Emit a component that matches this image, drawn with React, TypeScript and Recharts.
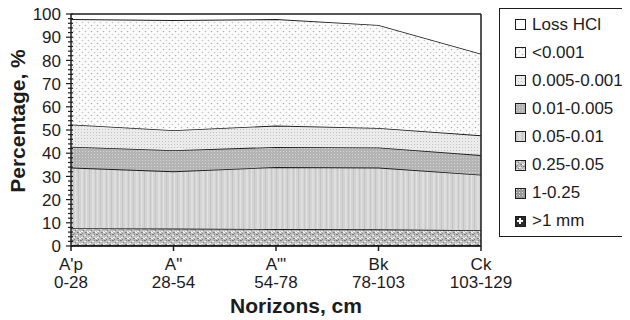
import React from 'react';
import { AreaChart, Area, XAxis, YAxis, ReferenceLine } from 'recharts';

const horizons = ["A'p", 'A"', 'A"\'', 'Bk', 'Ck'];
const depths = ['0-28', '28-54', '54-78', '78-103', '103-129'];

const gt1mm = [0.1, 0.1, 0.1, 0.1, 0.1];
const f1_025 = [0.3, 0.3, 0.3, 0.3, 0.3];
const f025_005 = [7.3, 7.1, 6.9, 6.8, 6.4];
const f005_001 = [26.1, 24.7, 26.7, 26.6, 23.9];
const f001_0005 = [9.0, 9.1, 8.7, 8.7, 8.5];
const f0005_0001 = [9.6, 8.6, 9.2, 8.4, 8.5];
const lt0001 = [45.4, 47.5, 45.9, 44.4, 35.2];
const lossHCl = [2.2, 2.6, 2.2, 4.7, 17.1];

const yTicks = [0, 2, 4, 6, 8, 10, 12, 14, 16, 18, 20, 22, 24, 26, 28, 30, 32, 34, 36, 38, 40, 42, 44, 46, 48, 50, 52, 54, 56, 58, 60, 62, 64, 66, 68, 70, 72, 74, 76, 78, 80, 82, 84, 86, 88, 90, 92, 94, 96, 98, 100];
const yLabels = [0, 10, 20, 30, 40, 50, 60, 70, 80, 90, 100];

// bottom-first stacking order
const series = [
  { key: 'gt1', name: '>1 mm', values: gt1mm, pat: 'patGt1' },
  { key: 'f1', name: '1-0.25', values: f1_025, pat: 'pat1' },
  { key: 'f025', name: '0.25-0.05', values: f025_005, pat: 'pat025' },
  { key: 'f005', name: '0.05-0.01', values: f005_001, pat: 'pat005' },
  { key: 'f001', name: '0.01-0.005', values: f001_0005, pat: 'pat001' },
  { key: 'f0005', name: '0.005-0.001', values: f0005_0001, pat: 'pat0005' },
  { key: 'lt', name: '<0.001', values: lt0001, pat: 'patFine' },
  { key: 'loss', name: 'Loss HCl', values: lossHCl, pat: 'patLoss' },
];

const data = horizons.map((h, i) => {
  const row: Record<string, any> = { h, depth: depths[i] };
  series.forEach((s) => { row[s.key] = s.values[i]; });
  return row;
});

const FONT = '"Liberation Sans", Arial, Helvetica, sans-serif';
const INK = '#1c1c1c';

const XTick = (props: any) => {
  const { x, y, payload } = props;
  const idx = horizons.indexOf(payload.value);
  return (
    <g>
      <line x1={x} y1={y} x2={x} y2={y + 5} stroke={INK} strokeWidth={1.5} />
      <text x={x} y={y + 24} textAnchor="middle" fontSize={17} fontFamily={FONT} fill={INK}>{payload.value}</text>
      <text x={x} y={y + 42} textAnchor="middle" fontSize={17} fontFamily={FONT} fill={INK}>{depths[idx]}</text>
    </g>
  );
};

const YTick = (props: any) => {
  const { x, y, payload } = props;
  const major = yLabels.includes(payload.value);
  return (
    <g>
      <line x1={x - (major ? 5 : 3)} y1={y} x2={x + 2} y2={y} stroke={INK} strokeWidth={1.2} />
      {major && (
        <text x={x - 10} y={y} dy="0.36em" textAnchor="end" fontSize={17} fontFamily={FONT} fill={INK}>{payload.value}</text>
      )}
    </g>
  );
};

const Patterns = () => (
  <svg width={0} height={0} style={{ position: 'absolute' }}>
    <defs>
      <pattern id="patLoss" patternUnits="userSpaceOnUse" width={4} height={4}>
        <rect width={4} height={4} fill="#ffffff" />
      </pattern>
      <pattern id="patFine" patternUnits="userSpaceOnUse" width={6} height={6}>
        <rect width={6} height={6} fill="#fbfbfb" />
        <circle cx={1.5} cy={1.5} r={0.8} fill="#b4b4b4" />
        <circle cx={4.5} cy={4.5} r={0.8} fill="#c6c6c6" />
      </pattern>
      <pattern id="pat0005" patternUnits="userSpaceOnUse" width={3} height={3}>
        <rect width={3} height={3} fill="#ebebeb" />
        <rect x={0} y={0} width={1} height={1} fill="#c2c2c2" />
      </pattern>
      <pattern id="pat001" patternUnits="userSpaceOnUse" width={3} height={3}>
        <rect width={3} height={3} fill="#b4b4b4" />
        <rect x={1} y={1} width={1} height={1} fill="#d4d4d4" />
      </pattern>
      <pattern id="pat005" patternUnits="userSpaceOnUse" width={11} height={4}>
        <rect width={11} height={4} fill="#d4d4d4" />
        <rect x={1} width={1} height={4} fill="#c4c4c4" />
        <rect x={4} width={2} height={4} fill="#dedede" />
        <rect x={7} width={1} height={4} fill="#c8c8c8" />
        <rect x={9} width={1} height={4} fill="#e2e2e2" />
      </pattern>
      <pattern id="pat025" patternUnits="userSpaceOnUse" width={8} height={6}>
        <rect width={8} height={6} fill="#bdbdbd" />
        <rect x={0} y={0} width={2} height={1} fill="#7a7a7a" />
        <rect x={4} y={1} width={2} height={1} fill="#f0f0f0" />
        <rect x={6} y={0} width={1} height={1} fill="#858585" />
        <rect x={1} y={3} width={2} height={1} fill="#eeeeee" />
        <rect x={5} y={4} width={2} height={1} fill="#7e7e7e" />
        <rect x={2} y={5} width={1} height={1} fill="#888888" />
        <rect x={7} y={3} width={1} height={2} fill="#ececec" />
        <rect x={3} y={2} width={1} height={1} fill="#808080" />
        <rect x={0} y={4} width={1} height={1} fill="#f2f2f2" />
      </pattern>
      <pattern id="pat1" patternUnits="userSpaceOnUse" width={3} height={3}>
        <rect width={3} height={3} fill="#999999" />
        <rect x={1} y={1} width={1} height={1} fill="#dddddd" />
      </pattern>
      <pattern id="patGt1" patternUnits="userSpaceOnUse" width={10} height={10}>
        <rect width={10} height={10} fill="#2a2a2a" />
        <rect x={4} y={2} width={2} height={6} fill="#ffffff" />
        <rect x={2} y={4} width={6} height={2} fill="#ffffff" />
      </pattern>
    </defs>
  </svg>
);

const legendOrder = [...series].reverse();

const LegendBox = () => (
  <div
    style={{
      position: 'absolute', left: 499, top: 8, width: 131, height: 229,
      boxSizing: 'border-box', border: `1px solid ${INK}`, background: '#fff',
      fontFamily: FONT, fontSize: 17, color: INK,
    }}
  >
    {legendOrder.map((s, i) => (
      <div key={s.key} style={{ position: 'absolute', left: 15, top: 4.5 + i * 28.1, height: 22, display: 'flex', alignItems: 'center', whiteSpace: 'nowrap' }}>
        <svg width={11} height={11} style={{ marginRight: 6, display: 'block' }}>
          <rect x={0.5} y={0.5} width={10} height={10} fill={`url(#${s.pat})`} stroke={INK} strokeWidth={1} />
        </svg>
        <span>{s.name}</span>
      </div>
    ))}
  </div>
);

export default function App() {
  return (
    <div style={{ position: 'relative', width: 630, height: 320, margin: '-8px 0 0 -8px', background: '#fff' }}>
      <Patterns />
      <AreaChart width={630} height={320} data={data} margin={{ top: 14, right: 149, bottom: 0, left: 8 }}>
        <XAxis
          dataKey="h"
          height={74}
          tickSize={0}
          tickMargin={0}
          tickLine={false}
          axisLine={{ stroke: INK, strokeWidth: 1.5 }}
          tick={<XTick />}
          interval={0}
          label={{
            content: () => (
              <text x={296} y={313} textAnchor="middle" fontSize={21} fontWeight="bold" fontFamily={FONT} fill={INK}>Norizons, cm</text>
            ),
          }}
        />
        <YAxis
          width={63}
          domain={[0, 100]}
          ticks={yTicks}
          interval={0}
          tickSize={0}
          tickMargin={0}
          tickLine={false}
          axisLine={{ stroke: INK, strokeWidth: 1.5 }}
          tick={<YTick />}
          label={{
            content: () => (
              <text x={25} y={121} transform="rotate(-90, 25, 121)" textAnchor="middle" fontSize={21} fontWeight="bold" fontFamily={FONT} fill={INK}>Percentage, %</text>
            ),
          }}
        />
        {series.map((s) => (
          <Area
            key={s.key}
            type="linear"
            dataKey={s.key}
            name={s.name}
            stackId="1"
            stroke={INK}
            strokeWidth={1.7}
            fill={`url(#${s.pat})`}
            fillOpacity={1}
            isAnimationActive={false}
            dot={false}
            activeDot={false}
          />
        ))}
        <ReferenceLine x="Ck" stroke={INK} strokeWidth={1.5} />
      </AreaChart>
      <LegendBox />
    </div>
  );
}
